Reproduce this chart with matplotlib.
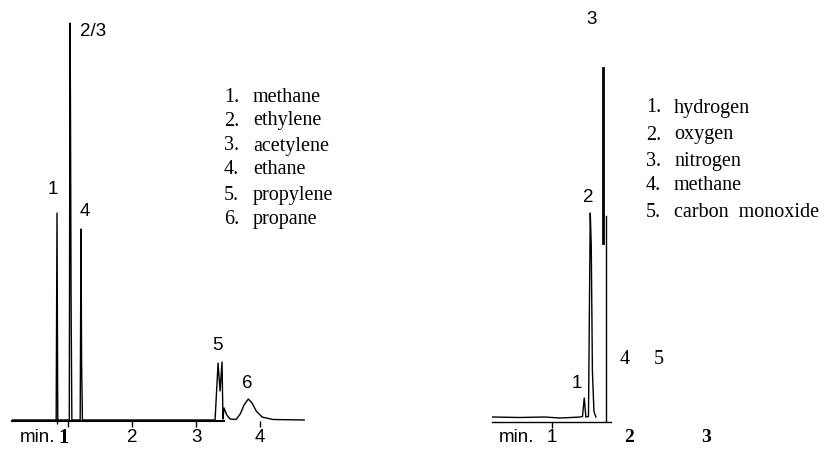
import matplotlib.pyplot as plt

# left chromatogram: time (min) and detector signal
left_time = [0.125, 0.815, 0.828, 0.84, 1.02, 1.031, 1.038, 1.048, 1.06, 1.19, 1.203, 1.212, 1.225,
             2.0, 3.297, 3.344, 3.375, 3.406, 3.42, 3.437, 3.48, 3.53, 3.625, 3.69, 3.75, 3.817,
             3.875, 3.94, 4.03, 4.2, 4.69]
left_signal = [1, 1, 208, 1, 1, 398, 320, 120, 1, 1, 192, 60, 1,
               1, 1, 58, 30, 59, 2, 13, 6, 2, 1.5, 7, 16, 22,
               18, 10, 4, 1.5, 1]
left_peak_labels = ["1", "2/3", "4", "5", "6"]
left_label_time = [0.766, 1.398, 1.266, 3.33, 3.797]
left_label_signal = [231, 389, 209, 75, 38]
left_names = ["methane", "ethylene", "acetylene", "ethane", "propylene", "propane"]

# right chromatogram
right_time = [0.221, 0.584, 0.9, 1.104, 1.25, 1.364, 1.396, 1.419, 1.44, 1.474, 1.497, 1.51,
              1.525, 1.545, 1.57]
right_signal = [4.5, 4, 4.5, 3.5, 4, 4.5, 5, 23.5, 4.5, 5, 208.5, 176,
                50, 10, 4.5]
peak3_time = [1.666, 1.666]
peak3_signal = [178.5, 353.5]
marker_time = [1.697, 1.697]
marker_signal = [205.5, 0]
right_peak_labels = ["3", "2", "1"]
right_label_time = [1.519, 1.468, 1.325]
right_label_signal = [401.5, 223.5, 37.5]
right_names = ["hydrogen", "oxygen", "nitrogen", "methane", "carbon  monoxide"]

W, H = 825, 449
SANS = "Liberation Sans"
SERIF = "Liberation Serif"
FS = 13.5


def rect(x0, x1, y_top, y_bot):
    return [x0 / W, 1 - y_bot / H, (x1 - x0) / W, (y_bot - y_top) / H]


def style_axis(ax, lw):
    for side in ["left", "right", "top"]:
        ax.spines[side].set_visible(False)
    ax.spines["bottom"].set_linewidth(lw)
    ax.set_yticks([])
    ax.tick_params(axis="x", direction="out", length=4.5, width=1, pad=1.0)


fig = plt.figure(figsize=(8.25, 4.49), dpi=100)

axL = fig.add_axes(rect(12, 310, 0, 421))
axL.set_xlim(0.125, 4.78)
axL.set_ylim(0, 421)
style_axis(axL, 1.5)
axL.spines["bottom"].set_bounds(0.125, 3.44)
axL.plot(left_time, left_signal, color="black", lw=1.0)
axL.set_xticks([1, 2, 3, 4], ["", "2", "3", "4"], fontsize=FS, fontfamily=SANS)
axL.set_xticks([0.828], minor=True)
axL.tick_params(axis="x", which="minor", length=2.5, width=1)
for s, t, v in zip(left_peak_labels, left_label_time, left_label_signal):
    axL.text(t, v, s, ha="center", va="center", fontsize=FS, family=SANS, clip_on=False)

axR = fig.add_axes(rect(492, 720, 0, 421.5))
axR.set_xlim(0.221, 3.182)
axR.set_ylim(0, 421.5)
style_axis(axR, 1.0)
axR.spines["bottom"].set_bounds(0.221, 1.766)
axR.plot(right_time, right_signal, color="black", lw=1.0)
axR.plot(peak3_time, peak3_signal, color="black", lw=2.0)
axR.plot(marker_time, marker_signal, color="black", lw=1.0)
axR.set_xticks([1, 2, 3], ["1", "2", "3"])
for i, lab in enumerate(axR.get_xticklabels()):
    if i == 0:
        lab.set_fontfamily(SANS)
        lab.set_fontsize(FS)
    else:
        lab.set_fontfamily(SERIF)
        lab.set_fontweight("bold")
        lab.set_fontsize(14)
for tk in axR.xaxis.get_major_ticks()[1:]:
    tk.tick1line.set_visible(False)
for s, t, v in zip(right_peak_labels, right_label_time, right_label_signal):
    axR.text(t, v, s, ha="center", va="center", fontsize=FS, family=SANS, clip_on=False)
axR.text(1.948, 61.5, "4", ha="center", va="center", fontsize=14.5, family=SERIF)
axR.text(2.39, 61.5, "5", ha="center", va="center", fontsize=14.5, family=SERIF)

# axis captions
fig.text(38 / W, 1 - 438 / H, "min.", ha="center", va="center", fontsize=FS, family=SANS)
fig.text(63.5 / W, 1 - 438 / H, "1", ha="center", va="center", fontsize=15,
         family=SERIF, fontweight="bold")
fig.text(517 / W, 1 - 438 / H, "min.", ha="center", va="center", fontsize=FS, family=SANS)

# component lists
left_rows = [97, 121, 146, 170, 195, 220]
for i, name in enumerate(left_names):
    y = 1 - left_rows[i] / H
    fig.text(224 / W, y, f"{i + 1}.", ha="left", va="center", fontsize=14.5, family=SERIF)
    fig.text(253 / W, y, name, ha="left", va="center", fontsize=14.5, family=SERIF)

right_rows = [108, 135, 161, 185, 212]
for i, name in enumerate(right_names):
    y = 1 - right_rows[i] / H
    fig.text(646 / W, y, f"{i + 1}.", ha="left", va="center", fontsize=14.5, family=SERIF)
    fig.text(674 / W, y, name, ha="left", va="center", fontsize=14.5, family=SERIF)

fig.savefig("out.png", dpi=100)
